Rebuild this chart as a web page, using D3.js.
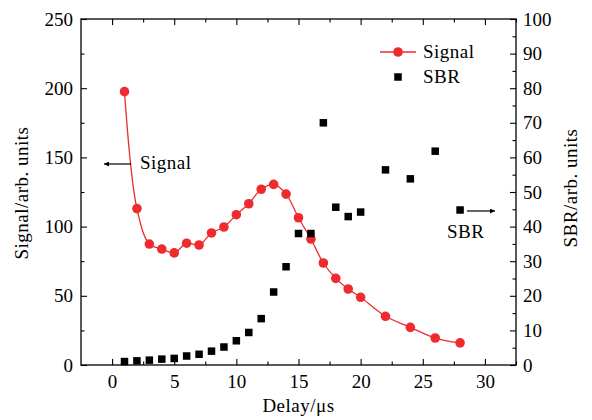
<!DOCTYPE html>
<html>
<head>
<meta charset="utf-8">
<script src="https://cdn.jsdelivr.net/npm/d3@7"></script>
</head>
<body style="margin:0; background:#fff">
<div id="chart"></div>
<script>
// Data
var delay = [1, 2, 3, 4, 5, 6, 7, 8, 9, 10, 11, 12, 13, 14, 15, 16, 17, 18, 19, 20, 22, 24, 26, 28];
var signal = [197.5, 113, 87.4, 83.8, 81, 88, 86.7, 95.4, 99.7, 108.6, 116.5, 127, 130.5, 123.5,
              106.4, 91, 73.7, 62.6, 54.9, 48.9, 35.2, 27.2, 19.5, 16];
var sbr = [1.0, 1.2, 1.4, 1.7, 1.9, 2.6, 3.1, 4.0, 5.2, 7.0, 9.4, 13.4, 21.1, 28.4,
           38, 38, 70, 45.6, 42.9, 44.2, 56.4, 53.8, 61.8, 44.8];
var xTicks = [0, 5, 10, 15, 20, 25, 30];
var signalTicks = [0, 50, 100, 150, 200, 250];
var sbrTicks = [0, 10, 20, 30, 40, 50, 60, 70, 80, 90, 100];

var width = 592, height = 420;
var margin = { top: 19, right: 76, bottom: 55, left: 81 };
var w = width - margin.left - margin.right;
var h = height - margin.top - margin.bottom;
var red = "#ee2b2f";
var font = "Liberation Serif";
var fontSize = 19;

var svg = d3.select("#chart").append("svg")
    .attr("width", width)
    .attr("height", height);

var g = svg.append("g")
    .attr("transform", "translate(" + margin.left + "," + margin.top + ")");

// Scales
var x = d3.scaleLinear().domain([-2.5, 32.5]).range([0, w]);
var yL = d3.scaleLinear().domain([0, 250]).range([h, 0]);
var yR = d3.scaleLinear().domain([0, 100]).range([h, 0]);

var minorX = d3.range(0, 32.6, 2.5).filter(function (d) { return d % 5 !== 0; });

function styleAxis(sel) {
    sel.attr("font-family", font).attr("font-size", fontSize);
    sel.select(".domain").remove();
    sel.selectAll("line").attr("stroke", "#000").attr("stroke-width", 1.1);
    sel.selectAll("text").attr("fill", "#000");
}

// Bottom axis, ticks inside
g.append("g").attr("transform", "translate(0," + h + ")")
    .call(d3.axisBottom(x).tickValues(xTicks).tickSize(-6).tickPadding(10).tickFormat(d3.format("d")))
    .call(styleAxis);
g.append("g").attr("transform", "translate(0," + h + ")")
    .call(d3.axisBottom(x).tickValues(minorX).tickSize(-3.5).tickFormat(""))
    .call(styleAxis);

// Top axis
g.append("g")
    .call(d3.axisTop(x).tickValues(xTicks).tickSize(-6).tickFormat(""))
    .call(styleAxis);
g.append("g")
    .call(d3.axisTop(x).tickValues(minorX).tickSize(-3.5).tickFormat(""))
    .call(styleAxis);

// Left axis
g.append("g")
    .call(d3.axisLeft(yL).tickValues(signalTicks).tickSize(-6).tickPadding(8))
    .call(styleAxis);
g.append("g")
    .call(d3.axisLeft(yL).tickValues(d3.range(25, 250, 50)).tickSize(-3.5).tickFormat(""))
    .call(styleAxis);

// Right axis
g.append("g").attr("transform", "translate(" + w + ",0)")
    .call(d3.axisRight(yR).tickValues(sbrTicks).tickSize(-6).tickPadding(7))
    .call(styleAxis);
g.append("g").attr("transform", "translate(" + w + ",0)")
    .call(d3.axisRight(yR).tickValues(d3.range(5, 100, 10)).tickSize(-3.5).tickFormat(""))
    .call(styleAxis);

// Frame
g.append("rect")
    .attr("width", w).attr("height", h)
    .attr("fill", "none").attr("stroke", "#000").attr("stroke-width", 1.3);

// Signal line + points
var line = d3.line()
    .x(function (d, i) { return x(delay[i]); })
    .y(function (d) { return yL(d); })
    .curve(d3.curveCatmullRom);

g.append("path")
    .datum(signal)
    .attr("d", line)
    .attr("fill", "none")
    .attr("stroke", red)
    .attr("stroke-width", 1.3);

g.selectAll(".sig")
    .data(signal)
    .enter().append("circle")
    .attr("class", "sig")
    .attr("cx", function (d, i) { return x(delay[i]); })
    .attr("cy", function (d) { return yL(d); })
    .attr("r", 4.8)
    .attr("fill", red);

// SBR squares
var sq = 7.5;
g.selectAll(".sbr")
    .data(sbr)
    .enter().append("rect")
    .attr("class", "sbr")
    .attr("x", function (d, i) { return x(delay[i]) - sq / 2; })
    .attr("y", function (d) { return yR(d) - sq / 2; })
    .attr("width", sq).attr("height", sq)
    .attr("fill", "#000");

function label(sel) {
    return sel.attr("font-family", font).attr("font-size", fontSize)
        .attr("letter-spacing", "0.5px").attr("fill", "#000");
}

// Legend
var leg = svg.append("g").attr("transform", "translate(380,52)");
leg.append("line").attr("x1", 0).attr("x2", 36).attr("y1", 0).attr("y2", 0)
    .attr("stroke", red).attr("stroke-width", 1.3);
leg.append("circle").attr("cx", 18).attr("cy", 0).attr("r", 4.8).attr("fill", red);
leg.append("text").attr("x", 43).attr("y", 6).call(label).text("Signal");
leg.append("rect").attr("x", 18 - sq / 2).attr("y", 25 - sq / 2).attr("width", sq).attr("height", sq).attr("fill", "#000");
leg.append("text").attr("x", 43).attr("y", 31).call(label).text("SBR");

// Arrow marker
svg.append("defs").append("marker")
    .attr("id", "arrow")
    .attr("viewBox", "0 0 10 10")
    .attr("refX", 10).attr("refY", 5)
    .attr("markerWidth", 9).attr("markerHeight", 5)
    .attr("markerUnits", "userSpaceOnUse")
    .attr("orient", "auto")
    .append("path").attr("d", "M0,0L10,5L0,10z").attr("fill", "#000");

// Annotations
svg.append("line").attr("x1", 131).attr("y1", 164).attr("x2", 104).attr("y2", 164)
    .attr("stroke", "#000").attr("stroke-width", 1.2).attr("marker-end", "url(#arrow)");
svg.append("text").attr("x", 140).attr("y", 169).call(label).text("Signal");

svg.append("line").attr("x1", 467).attr("y1", 211).attr("x2", 495).attr("y2", 211)
    .attr("stroke", "#000").attr("stroke-width", 1.2).attr("marker-end", "url(#arrow)");
svg.append("text").attr("x", 447).attr("y", 238).call(label).text("SBR");

// Axis titles
svg.append("text")
    .attr("x", margin.left + x(15)).attr("y", 412)
    .attr("text-anchor", "middle")
    .call(label)
    .text("Delay/μs");

svg.append("text")
    .attr("transform", "translate(28,193) rotate(-90)")
    .attr("text-anchor", "middle")
    .call(label)
    .text("Signal/arb. units");

svg.append("text")
    .attr("transform", "translate(577,188) rotate(-90)")
    .attr("text-anchor", "middle")
    .call(label)
    .text("SBR/arb. units");
</script>
</body>
</html>
